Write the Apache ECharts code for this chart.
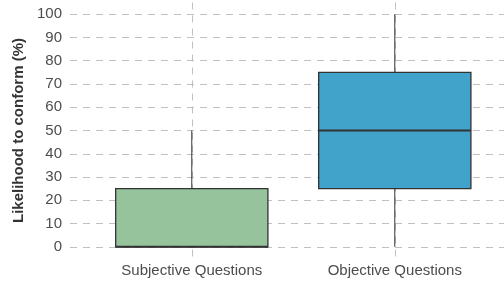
<!DOCTYPE html>
<html>
<head>
<meta charset="utf-8">
<script src="https://cdn.jsdelivr.net/npm/echarts@6/dist/echarts.min.js"></script>
<style>
  html, body { margin: 0; padding: 0; background: #fff; }
  #chart { width: 504px; height: 281px; }
</style>
</head>
<body>
<div id="chart"></div>
<script>
// categories and box statistics
const categories = ["Subjective Questions", "Objective Questions"];
const positions = [1, 2];
const mins = [0, 0];
const q1s = [0, 25];
const medians = [0, 50];
const q3s = [25, 75];
const maxs = [50, 100];
const fills = ["#96c39c", "#41a2ca"];

const boxData = positions.map((p, i) => [p, mins[i], q1s[i], medians[i], q3s[i], maxs[i]]);

// draws one box: whiskers without caps, box, thick median line
function renderBox(params, api) {
  const x = api.value(0);
  const lo = api.coord([x, api.value(1)]);
  const b1 = api.coord([x, api.value(2)]);
  const md = api.coord([x, api.value(3)]);
  const b3 = api.coord([x, api.value(4)]);
  const hi = api.coord([x, api.value(5)]);
  const w = api.size([0.75, 0])[0];
  const ink = "#333333";
  return {
    type: "group",
    children: [
      { type: "line", shape: { x1: lo[0], y1: lo[1], x2: b1[0], y2: b1[1] }, style: { stroke: ink, lineWidth: 1 } },
      { type: "line", shape: { x1: b3[0], y1: b3[1], x2: hi[0], y2: hi[1] }, style: { stroke: ink, lineWidth: 1 } },
      {
        type: "rect",
        shape: { x: b3[0] - w / 2, y: b3[1], width: w, height: b1[1] - b3[1] },
        style: { fill: fills[params.dataIndex], stroke: ink, lineWidth: 1.3 }
      },
      { type: "line", shape: { x1: md[0] - w / 2, y1: md[1], x2: md[0] + w / 2, y2: md[1] }, style: { stroke: ink, lineWidth: 2 } }
    ]
  };
}

const chart = echarts.init(document.getElementById("chart"));
chart.setOption({
  animation: false,
  textStyle: { fontFamily: "Liberation Sans, Arial, sans-serif" },
  grid: { left: 70, top: 2.5, right: 0, height: 256, containLabel: false },
  xAxis: {
    type: "value",
    min: 0.4,
    max: 2.538,
    splitNumber: 2,
    minInterval: 1,
    maxInterval: 1,
    axisLine: { show: false },
    axisTick: { show: false },
    axisLabel: {
      color: "#4d4d4d",
      fontSize: 15,
      margin: 5,
      showMinLabel: false,
      showMaxLabel: false,
      formatter: v => {
        const i = positions.indexOf(Math.round(v * 100) / 100);
        return i >= 0 ? categories[i] : "";
      }
    },
    splitLine: {
      show: true,
      showMinLine: false,
      showMaxLine: false,
      lineStyle: { color: "#c0c0c0", type: [7, 6], width: 1 }
    }
  },
  yAxis: {
    type: "value",
    min: -5,
    max: 105,
    splitNumber: 11,
    minInterval: 10,
    maxInterval: 10,
    name: "Likelihood to conform (%)",
    nameLocation: "middle",
    nameGap: 44,
    nameTextStyle: { fontSize: 15, fontWeight: "bold", color: "#333333" },
    axisLine: { show: false },
    axisTick: { show: false },
    axisLabel: {
      color: "#4d4d4d",
      fontSize: 15,
      margin: 8,
      showMinLabel: false,
      showMaxLabel: false
    },
    splitLine: {
      show: true,
      showMinLine: false,
      showMaxLine: false,
      lineStyle: { color: "#c0c0c0", type: [7, 6], width: 1 }
    }
  },
  series: [
    {
      type: "custom",
      renderItem: renderBox,
      data: boxData,
      encode: { x: 0, y: [1, 2, 3, 4, 5] },
      z: 3
    }
  ]
});
</script>
</body>
</html>
